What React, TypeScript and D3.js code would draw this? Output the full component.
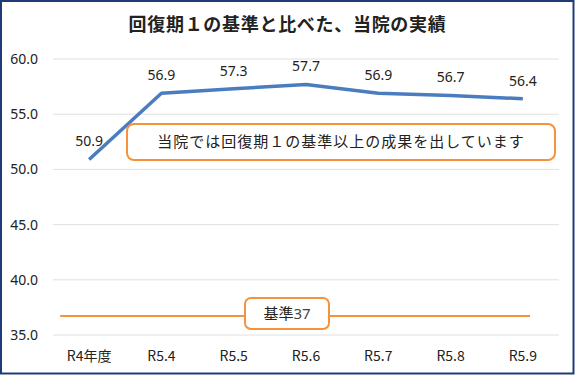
import { useRef, useEffect } from 'react';
import * as d3 from 'd3';

const categories = ['R4年度', 'R5.4', 'R5.5', 'R5.6', 'R5.7', 'R5.8', 'R5.9'];
const values = [50.9, 56.9, 57.3, 57.7, 56.9, 56.7, 56.4];
const baseValue = 37;
const yTicks = [35, 40, 45, 50, 55, 60];

const title = '回復期１の基準と比べた、当院の実績';
const note = '当院では回復期１の基準以上の成果を出しています';

const JP = '"Noto Sans CJK JP", "Noto Sans", sans-serif';
const NUM = '"Noto Sans", "Noto Sans CJK JP", sans-serif';

const App = () => {
  const svgRef = useRef<SVGSVGElement>(null);

  useEffect(() => {
    if (!svgRef.current) return;

    const width = 575;
    const height = 375;
    const marginTop = 59;
    const marginRight = 16;
    const marginBottom = 40;
    const marginLeft = 53;

    const svg = d3.select(svgRef.current);
    svg.selectAll('*').remove();

    const x = d3
      .scaleBand()
      .domain(categories)
      .range([marginLeft, width - marginRight]);
    const bw = x.bandwidth();
    const cx = (c: string) => x(c)! + bw / 2;

    const y = d3
      .scaleLinear()
      .domain([35, 60])
      .range([height - marginBottom, marginTop]);

    svg
      .append('rect')
      .attr('x', 1)
      .attr('y', 1)
      .attr('width', width - 2.5)
      .attr('height', height - 2.5)
      .attr('fill', '#fff')
      .attr('stroke', '#203a78')
      .attr('stroke-width', 2);

    svg
      .append('text')
      .attr('x', width / 2)
      .attr('y', 31)
      .attr('text-anchor', 'middle')
      .attr('font-family', JP)
      .attr('font-weight', 'bold')
      .attr('font-size', 18)
      .attr('letter-spacing', 0.7)
      .attr('fill', '#222')
      .text(title);

    // grid
    svg
      .append('g')
      .selectAll('line')
      .data(yTicks)
      .enter()
      .append('line')
      .attr('x1', marginLeft)
      .attr('x2', width - marginRight)
      .attr('y1', (d) => y(d))
      .attr('y2', (d) => y(d))
      .attr('stroke', '#e0e0e0')
      .attr('stroke-width', 1);

    // y labels
    svg
      .append('g')
      .selectAll('text')
      .data(yTicks)
      .enter()
      .append('text')
      .attr('x', 38)
      .attr('y', (d) => y(d))
      .attr('dy', '0.35em')
      .attr('text-anchor', 'end')
      .attr('font-family', NUM)
      .attr('font-size', 14)
      .attr('fill', '#222')
      .text((d) => d.toFixed(1));

    // x labels
    svg
      .append('g')
      .selectAll('text')
      .data(categories)
      .enter()
      .append('text')
      .attr('x', (d) => cx(d))
      .attr('y', height - marginBottom + 21)
      .attr('dy', '0.35em')
      .attr('text-anchor', 'middle')
      .attr('font-family', JP)
      .attr('font-size', 14)
      .attr('fill', '#222')
      .text((d) => d);

    // base line
    svg
      .append('line')
      .attr('x1', x(categories[0])! + bw * 0.1)
      .attr('x2', x(categories[categories.length - 1])! + bw * 0.6)
      .attr('y1', y(baseValue) + 3)
      .attr('y2', y(baseValue) + 3)
      .attr('stroke', '#f5923e')
      .attr('stroke-width', 2);

    // series line
    const line = d3
      .line<number>()
      .x((_, i) => cx(categories[i]))
      .y((d) => y(d));

    svg
      .append('path')
      .datum(values)
      .attr('d', line)
      .attr('fill', 'none')
      .attr('stroke', '#4a7dbf')
      .attr('stroke-width', 3.5)
      .attr('stroke-linejoin', 'round');

    svg
      .append('g')
      .selectAll('text')
      .data(values)
      .enter()
      .append('text')
      .attr('x', (_, i) => cx(categories[i]))
      .attr('y', (d) => y(d) - 18)
      .attr('dy', '0.35em')
      .attr('text-anchor', 'middle')
      .attr('font-family', NUM)
      .attr('font-size', 14)
      .attr('fill', '#222')
      .text((d) => d.toFixed(1));

    // note box
    svg
      .append('rect')
      .attr('x', 127)
      .attr('y', 124)
      .attr('width', 428)
      .attr('height', 36)
      .attr('rx', 7)
      .attr('fill', '#fff')
      .attr('stroke', '#f5923e')
      .attr('stroke-width', 2);

    svg
      .append('text')
      .attr('x', 341)
      .attr('y', 142)
      .attr('dy', '0.35em')
      .attr('text-anchor', 'middle')
      .attr('font-family', JP)
      .attr('font-size', 15)
      .attr('letter-spacing', 1)
      .attr('fill', '#222')
      .text(note);

    // base box
    svg
      .append('rect')
      .attr('x', 245)
      .attr('y', 298)
      .attr('width', 84)
      .attr('height', 31)
      .attr('rx', 6)
      .attr('fill', '#fff')
      .attr('stroke', '#f5923e')
      .attr('stroke-width', 2);

    const bt = svg
      .append('text')
      .attr('x', 287)
      .attr('y', 314)
      .attr('dy', '0.35em')
      .attr('text-anchor', 'middle')
      .attr('font-size', 15)
      .attr('fill', '#222');
    bt.append('tspan').attr('font-family', JP).text('基準');
    bt.append('tspan').attr('font-family', NUM).attr('fill', '#444').text(String(baseValue));
  }, []);

  return (
    <div style={{ position: 'absolute', left: 0, top: 0 }}>
      <svg ref={svgRef} width={575} height={375} style={{ display: 'block' }}></svg>
    </div>
  );
};

export default App;
